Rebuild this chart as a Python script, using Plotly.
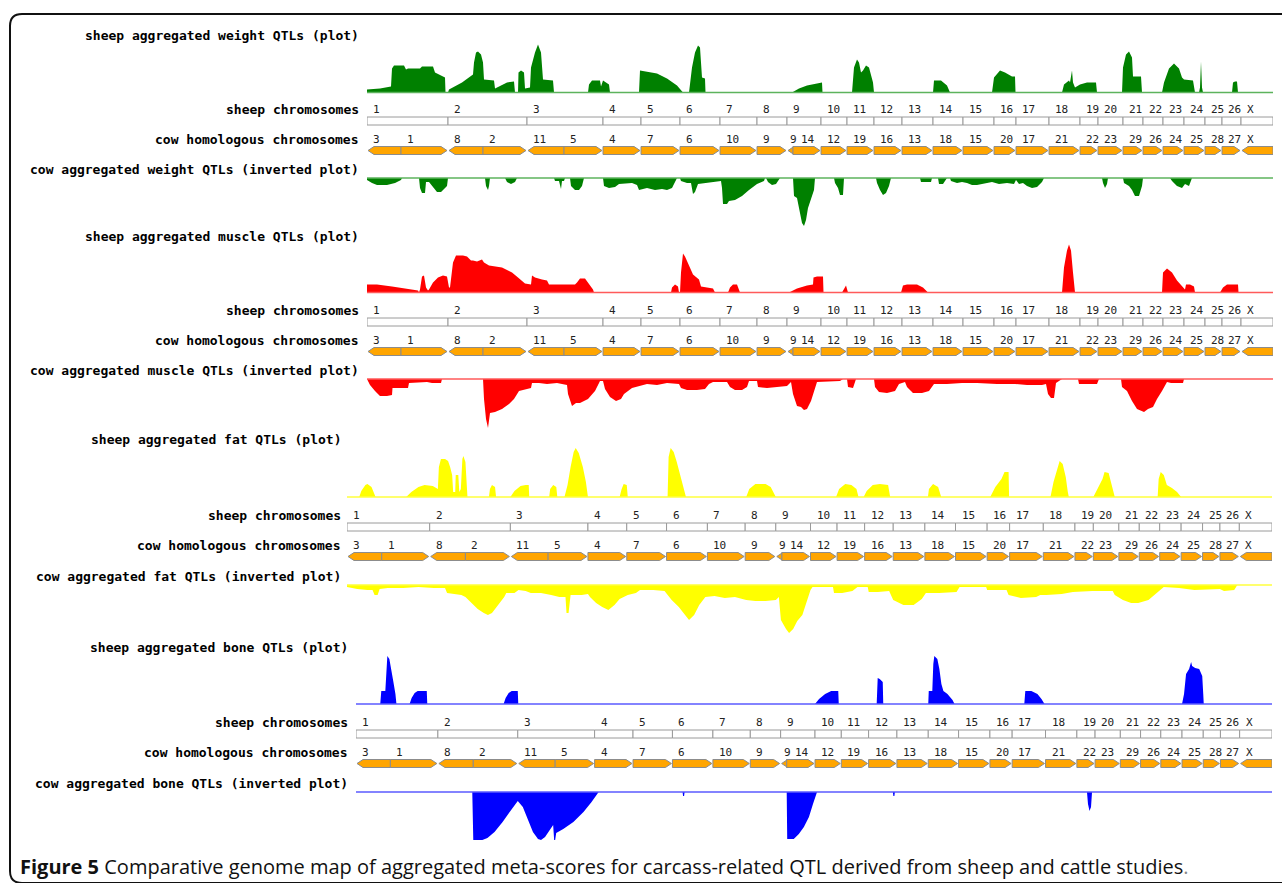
import plotly.graph_objects as go

W, H = 1282, 883

# ---------------- data ----------------
sheep_chr_names = ["1", "2", "3", "4", "5", "6", "7", "8", "9", "10", "11", "12", "13", "14",
                   "15", "16", "17", "18", "19", "20", "21", "22", "23", "24", "25", "26", "X"]
sheep_chr_len = [81, 79, 76, 38, 39, 40, 37, 30, 34, 26, 27, 28, 31, 30, 31, 22, 33, 31, 18,
                 25, 20, 20, 21, 21, 17, 19, 32]

cow_seg_names = ["3", "1", "8", "2", "11", "5", "4", "7", "6", "10", "9", "9", "14", "12", "19",
                 "16", "13", "18", "15", "20", "17", "21", "22", "23", "29", "26", "24", "25",
                 "28", "27", "X"]
cow_seg_len = [34, 47, 35, 44, 37, 39, 38, 39, 40, 37, 30, 6, 28, 26, 27, 28, 31, 30, 31, 22,
               33, 31, 18, 25, 20, 20, 21, 21, 17, 19, 32]
cow_seg_strand = ["-", "+", "-", "+", "-", "+", "+", "+", "+", "+", "+", "-", "+", "+", "+",
                  "+", "+", "+", "+", "+", "+", "+", "+", "+", "+", "+", "+", "+", "+", "+", "-"]

traits = ["weight", "muscle", "fat", "bone"]

weight_sheep = [
    (0, 3), (13, 4), (24, 6), (25, 24), (27, 27), (37, 27), (39, 23), (41, 24), (53, 24), (55, 26),
    (66, 26), (68, 20), (76, 16), (78, 15), (78.5, 0),
    (81, 0), (82, 3), (95, 10), (106, 18), (107, 30), (109, 40), (111, 41), (114, 38), (116, 30),
    (117, 13), (127, 12), (128, 4), (140, 10), (147, 11), (148, 0),
    (151, 0), (151.5, 20), (154, 22), (157, 20), (158, 4), (163, 5), (164, 25), (168, 40), (171, 48),
    (174, 40), (176, 13), (186, 12), (187, 0),
    (221, 0), (222, 8), (225, 12), (233, 12), (234, 6), (236, 12), (242, 8), (243, 0),
    (272, 0), (273, 22), (280, 21), (290, 19), (300, 14), (310, 7), (316, 0),
    (322, 0), (325, 25), (328, 40), (331, 47), (333, 45), (335, 15), (338, 14), (338.5, 0),
    (425, 0), (432, 4), (440, 7), (450, 9), (455, 10), (455.5, 0),
    (485, 0), (487, 25), (490, 33), (492, 30), (494, 20), (496, 22), (499, 27), (502, 25), (506, 10),
    (507, 0),
    (566, 0), (567, 12), (574, 12), (580, 7), (583, 0),
    (625, 0), (627, 15), (633, 22), (638, 20), (645, 16), (648, 16), (648.5, 0),
    (695, 0), (697, 8), (702, 12), (703, 10), (705, 22), (706, 10), (708, 5), (713, 8), (720, 10),
    (729, 10), (730, 0),
    (755, 0), (756, 25), (759, 38), (762, 41), (765, 35), (766, 16), (774, 16), (775, 0),
    (795, 0), (797, 10), (802, 24), (807, 29), (812, 24), (815, 15), (817, 13), (826, 12), (828, 0),
    (832, 0), (833, 5), (834, 31), (835, 5), (836, 0),
    (865, 0), (866, 10), (868, 11), (870, 11), (871, 0), (906, 0)]

weight_cow = [
    (0, 2), (5, 5), (10, 7), (20, 7), (28, 5), (34, 2), (35, 0),
    (52, 0), (53, 10), (55, 15), (58, 15), (59, 4), (62, 4), (65, 8), (70, 14), (74, 14), (78, 10),
    (80, 8), (81, 0),
    (118, 0), (119, 8), (121, 12), (122, 8), (123, 0),
    (138, 0), (140, 4), (144, 6), (148, 4), (150, 0),
    (187, 0), (188, 3), (192, 3), (194, 11), (195, 3), (197, 3), (198, 0),
    (203, 0), (204, 8), (208, 12), (212, 12), (215, 8), (217, 0),
    (236, 0), (237, 8), (242, 10), (248, 9), (252, 6), (265, 5), (270, 7), (272, 12), (280, 10),
    (288, 12), (295, 11), (300, 12), (305, 10), (310, 0),
    (313, 0), (314, 3), (320, 5), (324, 5), (326, 16), (328, 14), (331, 6), (340, 5), (350, 4),
    (354, 3), (355, 10), (356, 26), (360, 26), (362, 23), (368, 22), (375, 18), (382, 12), (390, 6),
    (397, 3), (398, 0),
    (399, 0), (401, 4), (405, 7), (409, 6), (413, 0),
    (426, 0), (427, 18), (430, 20), (432, 30), (435, 45), (437, 48), (439, 42), (441, 30), (444, 22),
    (447, 12), (448, 0),
    (467, 0), (468, 5), (471, 10), (473, 17), (476, 17), (477, 0),
    (509, 0), (510, 5), (513, 12), (516, 17), (519, 15), (522, 8), (524, 0),
    (553, 0), (554, 4), (564, 4), (565, 0),
    (571, 0), (572, 6), (576, 6), (578, 3), (580, 0),
    (583, 0), (584, 3), (590, 5), (595, 4), (600, 5), (605, 7), (610, 7), (618, 5), (625, 4),
    (632, 6), (640, 5), (647, 6), (649, 2), (652, 6), (656, 5), (660, 8), (665, 10), (670, 9),
    (675, 4), (677, 0),
    (735, 0), (736, 5), (738, 10), (740, 6), (741, 0),
    (756, 0), (757, 5), (762, 8), (765, 12), (768, 18), (772, 18), (775, 8), (776, 0),
    (803, 0), (805, 3), (810, 8), (815, 10), (818, 6), (822, 8), (825, 0), (906, 0)]

muscle_sheep = [
    (0, 8), (10, 8), (25, 6), (40, 4), (51, 2), (52, 0), (53, 3), (55, 16), (57, 17), (59, 5),
    (61, 2), (62, 3), (66, 10), (71, 15), (76, 17), (80, 16), (82, 5), (83, 5), (86, 30), (89, 37),
    (96, 37), (100, 36), (104, 32), (106, 32), (110, 31), (115, 33), (117, 30), (122, 27), (135, 25),
    (145, 20), (147, 18), (151, 15), (158, 9), (163, 8), (164, 8), (165, 17), (168, 15), (175, 13),
    (180, 12), (182, 8), (195, 8), (208, 8), (210, 10), (213, 14), (218, 14), (221, 10), (226, 3),
    (227, 0),
    (304, 0), (305, 5), (308, 8), (311, 6), (312, 0), (313, 0), (314, 20), (316, 39), (318, 36),
    (322, 27), (326, 18), (332, 13), (334, 6), (340, 5), (346, 4), (348, 0),
    (361, 0), (363, 5), (366, 8), (370, 8), (373, 0),
    (422, 0), (430, 4), (440, 7), (446, 8), (446.5, 15), (450, 16), (456, 16), (456.5, 0),
    (475, 0), (477, 4), (479, 7), (481, 0),
    (534, 0), (536, 7), (540, 8), (550, 8), (556, 5), (561, 0),
    (695, 0), (697, 25), (700, 42), (702, 48), (704, 42), (706, 20), (708, 0),
    (795, 0), (796, 20), (800, 24), (805, 20), (810, 12), (816, 5), (818, 3), (819, 8), (823, 8),
    (827, 6), (828, 0),
    (853, 0), (856, 5), (860, 8), (871, 8), (871.5, 0), (906, 0)]

muscle_cow = [
    (0, 0), (3, 6), (8, 12), (13, 17), (20, 17), (25, 16), (25.5, 9), (33, 9), (41, 9), (42, 4),
    (60, 3), (65, 4), (74, 4), (75, 0),
    (116, 0), (117, 20), (119, 40), (121, 49), (123, 34), (128, 33), (135, 30), (142, 25), (147, 20),
    (152, 12), (160, 10), (164, 9), (165, 4), (172, 4), (180, 5), (190, 4), (200, 6), (201, 15),
    (205, 27), (209, 24), (213, 24), (221, 20), (228, 12), (233, 2), (236, 2), (238, 10), (243, 18),
    (249, 22), (254, 20), (257, 15), (265, 9), (273, 7), (280, 5), (290, 6), (300, 4), (312, 5),
    (314, 9), (320, 11), (330, 11), (338, 10), (342, 5), (346, 3), (360, 3), (363, 8), (368, 11),
    (375, 11), (380, 8), (382, 2), (390, 2), (391, 8), (400, 9), (410, 8), (420, 7), (424, 3),
    (426, 15), (430, 27), (434, 28), (437, 31), (440, 30), (444, 22), (448, 10), (450, 3), (473, 2),
    (476, 0), (480, 0), (481, 8), (486, 9), (489, 0), (507, 0), (508, 8), (512, 13), (520, 14),
    (528, 12), (532, 5), (538, 3), (540, 8), (546, 14), (555, 14), (562, 12), (567, 5), (580, 5),
    (595, 4), (610, 4), (630, 5), (648, 5), (660, 6), (675, 6), (679, 5), (681, 15), (684, 19),
    (687, 19), (689, 4), (695, 0), (711, 0), (712, 5), (730, 5), (732, 0), (754, 0), (755, 8),
    (760, 12), (765, 22), (770, 30), (777, 33), (781, 30), (786, 28), (790, 20), (795, 12), (800, 3),
    (804, 4), (816, 4), (817, 0), (906, 0)]

fat_sheep = [
    (12, 0), (14, 6), (18, 12), (20, 13), (24, 10), (27, 2), (28, 0),
    (58, 0), (63, 5), (70, 10), (76, 12), (84, 11), (89, 8), (90, 30), (92, 38), (96, 38), (99, 36),
    (101, 30), (103, 22), (104, 5), (106, 5), (106.5, 22), (109, 22), (110, 5), (111.5, 8), (113, 38),
    (114, 41), (116, 35), (117, 10), (118, 0),
    (139, 0), (140, 8), (142, 12), (145, 10), (146, 0),
    (160, 0), (164, 6), (170, 11), (175, 12), (178, 12), (178.5, 0),
    (198, 0), (199, 8), (202, 12), (205, 10), (206, 0),
    (213, 0), (216, 12), (219, 30), (222, 45), (224, 49), (227, 44), (231, 30), (234, 15), (236, 0),
    (267, 0), (269, 8), (271, 13), (274, 12), (275, 0),
    (314, 0), (315, 40), (317, 49), (320, 45), (323, 35), (327, 20), (331, 5), (332, 0),
    (391, 0), (394, 8), (400, 13), (410, 13), (415, 10), (419, 2), (420, 0),
    (479, 0), (482, 8), (488, 13), (494, 12), (499, 8), (501, 0),
    (506, 0), (509, 6), (515, 12), (522, 13), (530, 12), (532, 0),
    (569, 0), (570, 8), (574, 13), (579, 10), (582, 0),
    (630, 0), (635, 10), (641, 18), (644, 25), (648, 25), (648.5, 0),
    (689, 0), (692, 15), (696, 30), (698, 36), (701, 33), (704, 20), (706, 5), (707, 0),
    (731, 0), (735, 8), (740, 18), (742, 25), (746, 24), (749, 12), (752, 0),
    (794, 0), (795, 18), (797, 25), (800, 22), (803, 12), (808, 9), (813, 5), (817, 0), (906, 0)]

fat_cow = [
    (0, 2), (5, 3), (10, 4), (20, 5), (25, 5), (27, 10), (30, 10), (32, 4), (40, 3), (55, 3), (70, 2),
    (85, 3), (96, 3), (98, 8), (105, 9), (112, 10), (116, 12), (122, 18), (128, 24), (134, 28),
    (138, 30), (142, 28), (148, 20), (154, 12), (156, 8), (164, 8), (168, 5), (175, 6), (180, 8),
    (190, 8), (200, 10), (208, 12), (214, 12), (215, 28), (217, 28), (219, 10), (230, 10), (236, 9),
    (238, 12), (244, 18), (250, 22), (256, 25), (262, 20), (267, 14), (275, 10), (283, 8), (287, 5),
    (300, 5), (311, 6), (318, 15), (325, 22), (331, 30), (335, 35), (340, 30), (345, 20), (351, 12),
    (360, 11), (370, 13), (380, 12), (391, 15), (400, 16), (410, 16), (420, 15), (423, 12), (425, 35),
    (430, 44), (433, 48), (437, 44), (441, 36), (446, 30), (450, 18), (454, 5), (456, 2), (476, 2),
    (477, 8), (485, 8), (495, 6), (500, 2), (510, 2), (511, 7), (520, 7), (531, 6), (535, 15),
    (545, 20), (555, 20), (563, 14), (567, 8), (580, 8), (597, 7), (600, 2), (626, 2), (627, 5),
    (646, 5), (648, 10), (660, 13), (675, 12), (679, 10), (685, 10), (700, 9), (711, 7), (730, 6),
    (750, 6), (752, 10), (760, 15), (768, 18), (775, 18), (785, 15), (796, 6), (800, 2), (815, 3),
    (830, 5), (855, 4), (859, 6), (869, 5), (872, 0), (906, 0)]

bone_sheep = [
    (24, 0), (25, 13), (29, 13), (30, 40), (31, 48), (33, 45), (35, 35), (37, 22), (39, 10), (40, 0),
    (53, 0), (55, 6), (58, 11), (61, 13), (70, 13), (70.5, 0),
    (146, 0), (148, 6), (151, 11), (154, 13), (160, 13), (160.5, 0),
    (454, 0), (458, 5), (464, 10), (470, 13), (477, 13), (477.5, 0),
    (515, 0), (516, 26), (518, 25), (521, 22), (521.5, 0),
    (566, 0), (566.5, 13), (570, 13), (571, 40), (572, 48), (575, 45), (577, 35), (579, 20),
    (581, 13), (585, 10), (590, 4), (592, 0),
    (661, 0), (662, 13), (668, 13), (674, 10), (678, 5), (681, 0),
    (817, 0), (819, 10), (821, 30), (824, 35), (826, 42), (827, 38), (830, 36), (834, 35), (837, 28),
    (838, 10), (838.5, 0), (906, 0)]

bone_cow = [
    (115, 0), (116, 48), (125, 48), (130, 46), (137, 40), (145, 30), (152, 20), (158, 12), (160, 9),
    (165, 15), (170, 28), (175, 40), (180, 47), (183, 48), (187, 45), (192, 38), (195, 33), (196, 48),
    (197, 48), (198, 41), (205, 37), (215, 30), (225, 20), (233, 10), (239, 2), (240, 0),
    (323, 0), (323.5, 4), (324.5, 4), (325, 0),
    (426, 0), (426.5, 47), (433, 47), (438, 42), (443, 35), (448, 25), (452, 12), (455, 2), (456, 0),
    (531, 0), (531.5, 4), (532.5, 4), (533, 0),
    (723, 0), (724, 12), (725.5, 19), (727, 15), (728, 0), (906, 0)]

profiles_sheep = [weight_sheep, muscle_sheep, fat_sheep, bone_sheep]
profiles_cow = [weight_cow, muscle_cow, fat_cow, bone_cow]

# ---------------- styling / layout ----------------
fill_colors = ["#008000", "#FF0000", "#FFFF00", "#0000FF"]
base_colors = ["#5DB35D", "#FF5A5A", "#FFFF3C", "#5A5AFF"]

panels = [
    dict(x0=367, x1=1273, title_y=36, sheep_base=92.5, track_top=100, inv_base=178, lab_r=361),
    dict(x0=367, x1=1273, title_y=236, sheep_base=292.5, track_top=301, inv_base=379, lab_r=361),
    dict(x0=347, x1=1272, title_y=439, sheep_base=497, track_top=506, inv_base=585, lab_r=343),
    dict(x0=356, x1=1272, title_y=647, sheep_base=704, track_top=713, inv_base=792, lab_r=350),
]

LABEL_FONT = dict(family="DejaVu Sans Mono", size=13, color="#000000")
NUM_FONT = dict(family="DejaVu Sans Mono", size=11, color="#222222")

total = sum(sheep_chr_len)


def px2py(py):
    return 1 - py / H


def ydom(top, bottom):
    return [1 - bottom / H, 1 - top / H]


def key(prefix, n):
    return prefix if n == 1 else f"{prefix}{n}"


fig = go.Figure()
layout = dict(width=W, height=H, margin=dict(l=0, r=0, t=0, b=0),
              paper_bgcolor="white", plot_bgcolor="rgba(0,0,0,0)", showlegend=False)
shapes = []
annotations = []

SHEEP_H = 55
INV_H = 52
TRACK_H = 60

for p, cfg in enumerate(panels):
    pn = p + 1
    xa = key("x", pn)
    ys_id, yt_id, yc_id = 3 * p + 1, 3 * p + 2, 3 * p + 3
    ya_s, ya_t, ya_c = key("y", ys_id), key("y", yt_id), key("y", yc_id)

    layout[key("xaxis", pn)] = dict(domain=[cfg["x0"] / W, cfg["x1"] / W], range=[0, total],
                                    visible=False, fixedrange=True, anchor=ya_s)
    layout[key("yaxis", ys_id)] = dict(domain=ydom(cfg["sheep_base"] - SHEEP_H + 1.5, cfg["sheep_base"] + 1.5),
                                       range=[-1.5, SHEEP_H - 1.5], visible=False, fixedrange=True, anchor=xa)
    layout[key("yaxis", yt_id)] = dict(domain=ydom(cfg["track_top"], cfg["track_top"] + TRACK_H),
                                       range=[TRACK_H, 0], visible=False, fixedrange=True, anchor=xa)
    layout[key("yaxis", yc_id)] = dict(domain=ydom(cfg["inv_base"] - 1.5, cfg["inv_base"] + INV_H - 1.5),
                                       range=[INV_H - 1.5, -1.5], visible=False, fixedrange=True, anchor=xa)

    # sheep aggregated plot
    sx = [a for a, b in profiles_sheep[p]]
    sy = [b for a, b in profiles_sheep[p]]
    fig.add_trace(go.Scatter(x=sx, y=sy, xaxis=xa, yaxis=ya_s, mode="lines", fill="tozeroy",
                             fillcolor=fill_colors[p], line=dict(width=0, color=fill_colors[p]),
                             hoverinfo="skip"))
    fig.add_trace(go.Scatter(x=[0, total], y=[0, 0], xaxis=xa, yaxis=ya_s, mode="lines",
                             line=dict(width=1.5, color=base_colors[p]), hoverinfo="skip"))
    # cow inverted plot
    cx = [a for a, b in profiles_cow[p]]
    cy = [b for a, b in profiles_cow[p]]
    fig.add_trace(go.Scatter(x=cx, y=cy, xaxis=xa, yaxis=ya_c, mode="lines", fill="tozeroy",
                             fillcolor=fill_colors[p], line=dict(width=0, color=fill_colors[p]),
                             hoverinfo="skip"))
    fig.add_trace(go.Scatter(x=[0, total], y=[0, 0], xaxis=xa, yaxis=ya_c, mode="lines",
                             line=dict(width=1.5, color=base_colors[p]), hoverinfo="skip"))

    # sheep chromosome boxes
    start = 0
    for name, ln in zip(sheep_chr_names, sheep_chr_len):
        shapes.append(dict(type="rect", xref=xa, yref=ya_t, x0=start, x1=start + ln, y0=17, y1=25,
                           fillcolor="white", line=dict(color="#9A9A9A", width=1), layer="above"))
        annotations.append(dict(x=start, y=9.5, xref=xa, yref=ya_t, text=name, showarrow=False,
                                xanchor="left", yanchor="middle", xshift=4, font=NUM_FONT))
        start += ln

    # cow homologous segments (arrows)
    px_per_unit = (cfg["x1"] - cfg["x0"]) / total
    tip = 6 / px_per_unit
    inset = 1 / px_per_unit
    y0, y1, ym = 46.5, 54.5, 50.5
    start = 0
    prev_small = False
    for name, ln, st in zip(cow_seg_names, cow_seg_len, cow_seg_strand):
        a, b = start, start + ln
        if st == "+":
            bt = b - inset
            path = (f"M {a},{y0} L {bt - tip},{y0} L {bt},{ym} L {bt - tip},{y1} L {a},{y1} Z")
        else:
            at = a + inset
            path = (f"M {b},{y0} L {at + tip},{y0} L {at},{ym} L {at + tip},{y1} L {b},{y1} Z")
        shapes.append(dict(type="path", xref=xa, yref=ya_t, path=path, fillcolor="#FFA500",
                           line=dict(color="#8C8C8C", width=1), layer="above"))
        small = ln < 10
        shift = 1 if small else (6 if prev_small else 4)
        annotations.append(dict(x=a, y=39.5, xref=xa, yref=ya_t, text=name, showarrow=False,
                                xanchor="left", yanchor="middle", xshift=shift, font=NUM_FONT))
        prev_small = small
        start = b

    # left labels
    lx = cfg["lab_r"] / W
    for txt, py in [(f"sheep aggregated {traits[p]} QTLs (plot)", cfg["title_y"]),
                    ("sheep chromosomes", cfg["track_top"] + 9.5),
                    ("cow homologous chromosomes", cfg["track_top"] + 39.5),
                    (f"cow aggregated {traits[p]} QTLs (inverted plot)", cfg["inv_base"] - 8.5)]:
        annotations.append(dict(x=lx, y=px2py(py), xref="paper", yref="paper", text=f"<b>{txt}</b>",
                                showarrow=False, xanchor="right", yanchor="middle", font=LABEL_FONT))

# rounded frame
r = 12
fx0, fy0, fx1, fy1 = 10, 14, 1300, 883
frame = (f"M {fx1 / W},{px2py(fy0)} L {(fx0 + r) / W},{px2py(fy0)} "
         f"Q {fx0 / W},{px2py(fy0)} {fx0 / W},{px2py(fy0 + r)} "
         f"L {fx0 / W},{px2py(fy1 - r)} Q {fx0 / W},{px2py(fy1)} {(fx0 + r) / W},{px2py(fy1)} "
         f"L {fx1 / W},{px2py(fy1)}")
shapes.append(dict(type="path", xref="paper", yref="paper", path=frame,
                   line=dict(color="#111111", width=2)))

# caption
annotations.append(dict(x=18 / W, y=px2py(866), xref="paper", yref="paper", showarrow=False,
                        xanchor="left", yanchor="middle",
                        text="<b>Figure 5</b> Comparative genome map of aggregated meta-scores for "
                             "carcass-related QTL derived from sheep and cattle studies"
                             "<span style='color:#888888'>.</span>",
                        font=dict(family="Open Sans", size=20, color="#111111")))

layout["shapes"] = shapes
layout["annotations"] = annotations
fig.update_layout(**layout)
fig.write_html("out.html")
